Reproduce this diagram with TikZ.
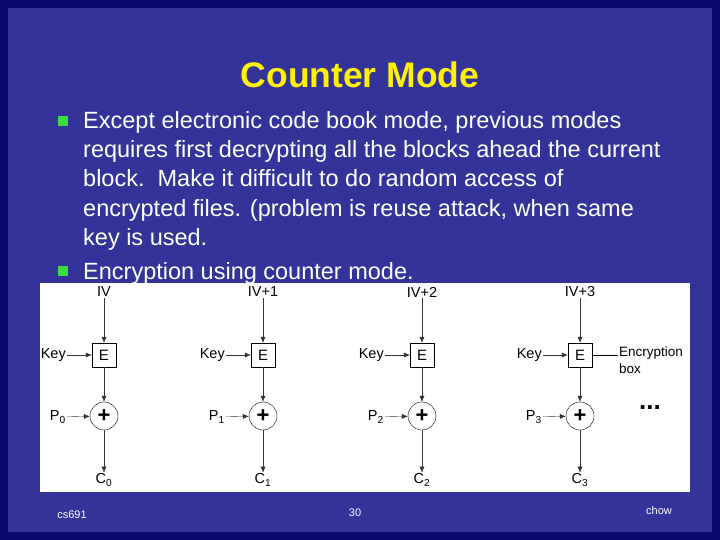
\documentclass[tikz,border=0pt]{standalone}
\usepackage{fontspec}
\setmainfont{Liberation Sans}
\usetikzlibrary{positioning,arrows.meta}
\definecolor{slide}{RGB}{51,51,153}
\definecolor{edge}{RGB}{10,10,110}
\definecolor{bul}{RGB}{60,220,60}
\tikzset{
	ebox/.style={draw,thin,minimum size=24pt,inner sep=0pt,font=\fontsize{15}{15}\selectfont},
	xorc/.style={draw,thin,circle,minimum size=28pt,inner sep=0pt,font=\bfseries\fontsize{22}{22}\selectfont},
	lbl/.style={inner sep=1pt,font=\fontsize{14.5}{14.5}\selectfont},
	arr/.style={-{Latex[length=6pt,width=5pt]},thin,black!80},
	body/.style={white,anchor=base west,inner sep=0pt,font=\fontsize{23.5}{29}\selectfont},
	foot/.style={white,inner sep=0pt,font=\fontsize{11}{11}\selectfont}
}
\begin{document}
\begin{tikzpicture}[x=1pt,y=-1pt]
	\useasboundingbox (0,0) rectangle (720,540);
	\fill[edge] (0,0) rectangle (720,540);
	\fill[slide] (8,8) rectangle (712,532);
	\node[yellow,font=\bfseries\fontsize{35.5}{35.5}\selectfont](title) at (360,75){Counter Mode};
	\fill[bul] (58,116) rectangle (68,126);
	\fill[bul] (58,266) rectangle (68,276);
	\node[body](t1) at (83,129){Except electronic code book mode, previous modes};
	\node[body](t2) at (83,158){requires first decrypting all the blocks ahead the current};
	\node[body](t3) at (83,187){block.\ \ Make it difficult to do random access of};
	\node[body](t4) at (83,216){encrypted files. (problem is reuse attack, when same};
	\node[body](t5) at (83,245){key is used.};
	\node[body](t6) at (83,279){Encryption using counter mode.};
	\fill[white] (40,283) rectangle (690,492);
	\foreach \i/\x/\iv in {0/104/IV,1/263/IV+1,2/422/IV+2,3/580/IV+3}{
		\node[lbl](iv\i) at (\x,292){\iv};
		\node[ebox](e\i) at (\x,355){E};
		\node[xorc](x\i) at (\x,416){+};
		\node[lbl](c\i) at (\x,480){C\textsubscript{\i}};
		\node[lbl,anchor=east](k\i) at (\x-37,355){Key};
		\node[lbl,anchor=east](p\i) at (\x-37,417){P\textsubscript{\i}};
		\draw[arr] (iv\i) -- (e\i);
		\draw[arr] (e\i) -- (x\i);
		\draw[arr] (x\i) -- (c\i);
		\draw[arr] (k\i) -- (e\i);
		\draw[arr] (p\i) -- (x\i);
	}
	\node[lbl,anchor=west,align=left,font=\fontsize{13.5}{17}\selectfont](enc) at (618,360){Encryption\\box};
	\draw[thin] (e3.east) -- (enc.west |- e3.east);
	\node[font=\bfseries\fontsize{26}{26}\selectfont](dots) at (650,408){...};
	\node[foot](cs) at (72,515){cs691};
	\node[foot](pg) at (355,513){30};
	\node[foot](ch) at (659,511){chow};
\end{tikzpicture}
\end{document}
